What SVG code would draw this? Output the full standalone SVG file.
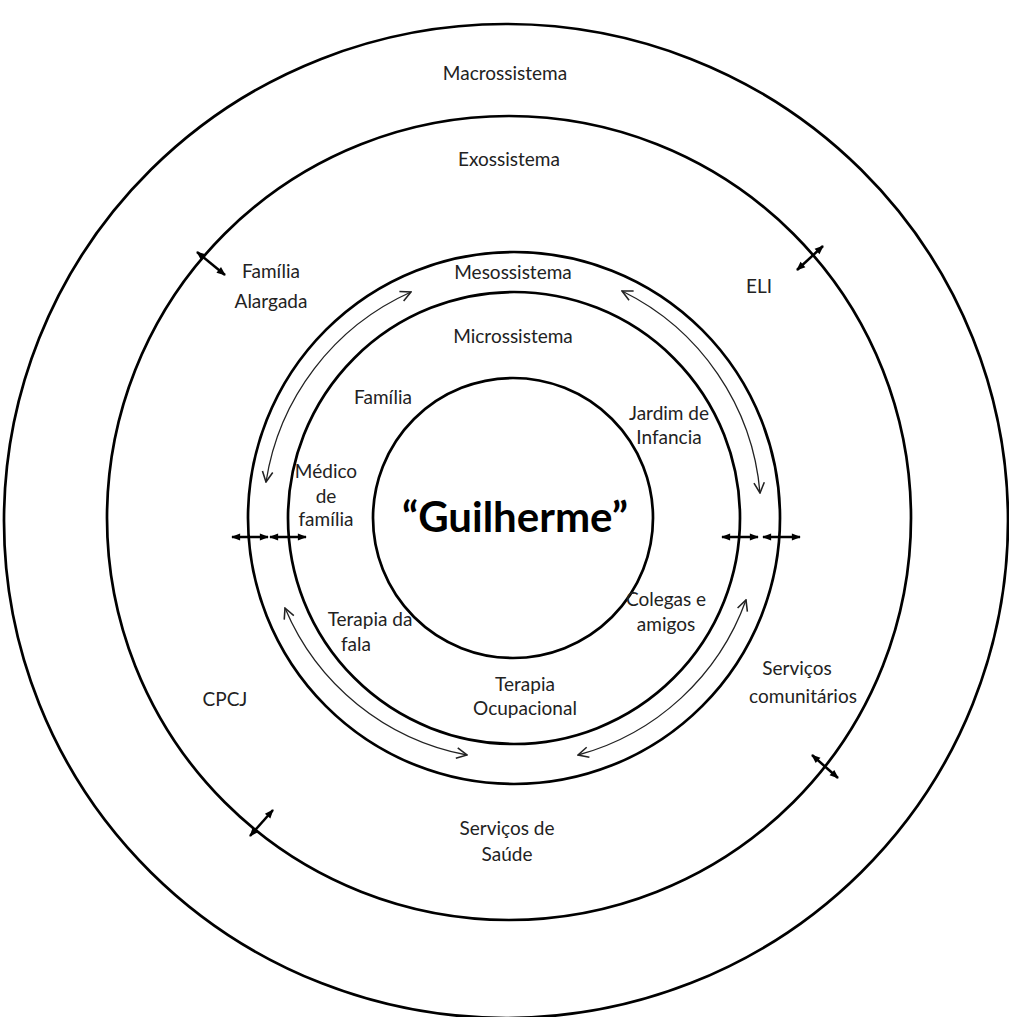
<svg xmlns="http://www.w3.org/2000/svg" width="1009" height="1017" viewBox="0 0 1009 1017">
<style>
.c{fill:none;stroke:#000;stroke-width:2.7}
.t{font-family:Lato,"Open Sans",sans-serif;font-size:19px;fill:#222;text-anchor:middle}
.g{font-family:Lato,"Open Sans",sans-serif;font-size:42px;font-weight:bold;fill:#000;text-anchor:middle}
.a{fill:none;stroke:#222;stroke-width:1.3;marker-start:url(#o);marker-end:url(#o)}
.d{stroke:#000;stroke-width:2.5;marker-start:url(#h);marker-end:url(#h)}
</style>
<defs>
<marker id="o" viewBox="0 0 10 10" refX="9" refY="5" markerWidth="13" markerHeight="13" markerUnits="userSpaceOnUse" orient="auto-start-reverse">
<path d="M1,1 L9,5 L1,9" fill="none" stroke="#222" stroke-width="1.2"/>
</marker>
<marker id="h" viewBox="0 0 10 10" refX="9" refY="5" markerWidth="11" markerHeight="9" markerUnits="userSpaceOnUse" orient="auto-start-reverse">
<path d="M0,1 L10,5 L0,9 z" fill="#000"/>
</marker>
</defs>
<g id="macro"><ellipse class="c" cx="506" cy="521" rx="502" ry="497"/><text class="t" x="505" y="80">Macrossistema</text></g>
<g id="exo"><circle class="c" cx="509" cy="518" r="402"/><text class="t" x="509" y="166">Exossistema</text></g>
<g id="meso"><circle class="c" cx="514" cy="518" r="266"/><text class="t" x="513" y="279">Mesossistema</text></g>
<g id="micro"><circle class="c" cx="514" cy="518" r="226"/><text class="t" x="513" y="343">Microssistema</text></g>
<g id="guilherme"><circle class="c" cx="513" cy="518" r="140"/><text class="g" x="515" y="532">“Guilherme”</text></g>
<g id="familia-alargada"><text class="t" x="271" y="278">Família</text><text class="t" x="271" y="308">Alargada</text></g>
<g id="eli"><text class="t" x="759" y="293">ELI</text></g>
<g id="familia"><text class="t" x="383" y="404">Família</text></g>
<g id="jardim"><text class="t" x="669" y="420">Jardim de</text><text class="t" x="669" y="444">Infancia</text></g>
<g id="medico"><text class="t" x="326" y="478">Médico</text><text class="t" x="326" y="503">de</text><text class="t" x="326" y="526">família</text></g>
<g id="colegas"><text class="t" x="666" y="606">Colegas e</text><text class="t" x="666" y="631">amigos</text></g>
<g id="terapia-fala"><text class="t" x="370" y="626">Terapia da</text><text class="t" x="356" y="651">fala</text></g>
<g id="terapia-ocup"><text class="t" x="525" y="691">Terapia</text><text class="t" x="525" y="715">Ocupacional</text></g>
<g id="servicos-com"><text class="t" x="797" y="675">Serviços</text><text class="t" x="803" y="703">comunitários</text></g>
<g id="cpcj"><text class="t" x="225" y="706">CPCJ</text></g>
<g id="servicos-saude"><text class="t" x="507" y="835">Serviços de</text><text class="t" x="507" y="861">Saúde</text></g>
<g id="connectors">
<path class="a" d="M266,482 A250,250 0 0 1 411,292"/>
<path class="a" d="M622,291 A248,248 0 0 1 760,493"/>
<path class="a" d="M285,608 A247,247 0 0 0 467,755"/>
<path class="a" d="M578,755 A247,247 0 0 0 746,600"/>
<line class="d" x1="232" y1="537" x2="268" y2="537"/>
<line class="d" x1="270" y1="537" x2="306" y2="537"/>
<line class="d" x1="722" y1="537" x2="758" y2="537"/>
<line class="d" x1="763" y1="537" x2="800" y2="537"/>
<line class="d" x1="197" y1="252" x2="225" y2="275"/>
<line class="d" x1="797" y1="270" x2="823" y2="246"/>
<line class="d" x1="812" y1="755" x2="838" y2="778"/>
<line class="d" x1="250" y1="836" x2="273" y2="810"/>
</g>
</svg>
